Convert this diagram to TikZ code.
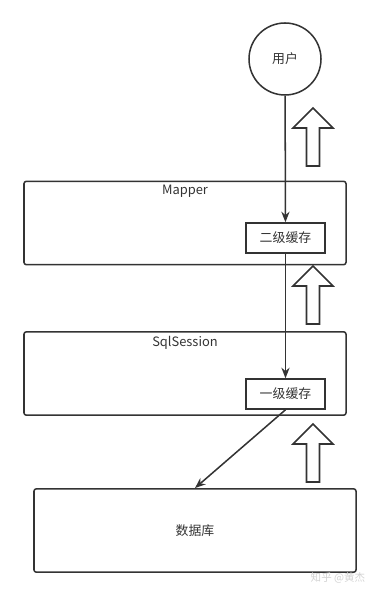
\documentclass[tikz,border=0pt]{standalone}
\usepackage{fontspec}
\setmainfont{Noto Sans CJK SC}
\usepackage{xcolor}
\usepackage{tikz}
\usetikzlibrary{arrows.meta, positioning, calc}
\definecolor{linegray}{HTML}{333333}

\begin{document}
\begin{tikzpicture}[
  x=0.03cm, y=-0.03cm,
  box/.style={draw=linegray, line width=1.3pt, rounded corners=2pt,
              minimum width=9.66cm, minimum height=2.5cm},
  cache/.style={draw=linegray, line width=1.3pt, minimum width=2.37cm,
                minimum height=0.9cm, inner sep=0pt},
  arr/.style={-{Stealth[length=9pt, width=7pt]}, line width=1.3pt, draw=linegray},
  every node/.style={font=\fontsize{11}{13}\selectfont, text=linegray},
  hollow/.pic={
    \draw[linegray, line width=1.3pt, line join=miter]
      (0,0) -- (20,20) -- (6.5,20) -- (6.5,58) -- (-6.5,58) -- (-6.5,20)
      -- (-20,20) -- cycle;
  }
]
  \useasboundingbox (0,0) rectangle (381,598);

  \node[circle, draw=linegray, line width=1.3pt, minimum size=2.16cm] (user) at (285,59) {用户};

  \node[box] (mapper) at (185,223) {};
  \node[inner sep=0pt, below=0.14cm of mapper.north] (mapperlbl) {Mapper};
  \node[cache] (cache2) at (285.5,238) {二级缓存};

  \node[box] (session) at (185,373.5) {};
  \node[inner sep=0pt, below=0.14cm of session.north] (sessionlbl) {SqlSession};
  \node[cache] (cache1) at (285.5,394) {一级缓存};

  \node[box] (db) at (195,530.5) {数据库};

  \draw[arr] (user) -- (cache2);
  \draw[arr] (cache2) -- (cache1);
  \draw[arr] (cache1.south) -- (db.north);

  % return path
  \foreach \y in {108,266,424}
    \pic at (313,\y) {hollow};

  \node[text=gray!35, font=\fontsize{9}{10}\selectfont] (mark) at (338,578) {知乎 @黄杰};
\end{tikzpicture}
\end{document}
